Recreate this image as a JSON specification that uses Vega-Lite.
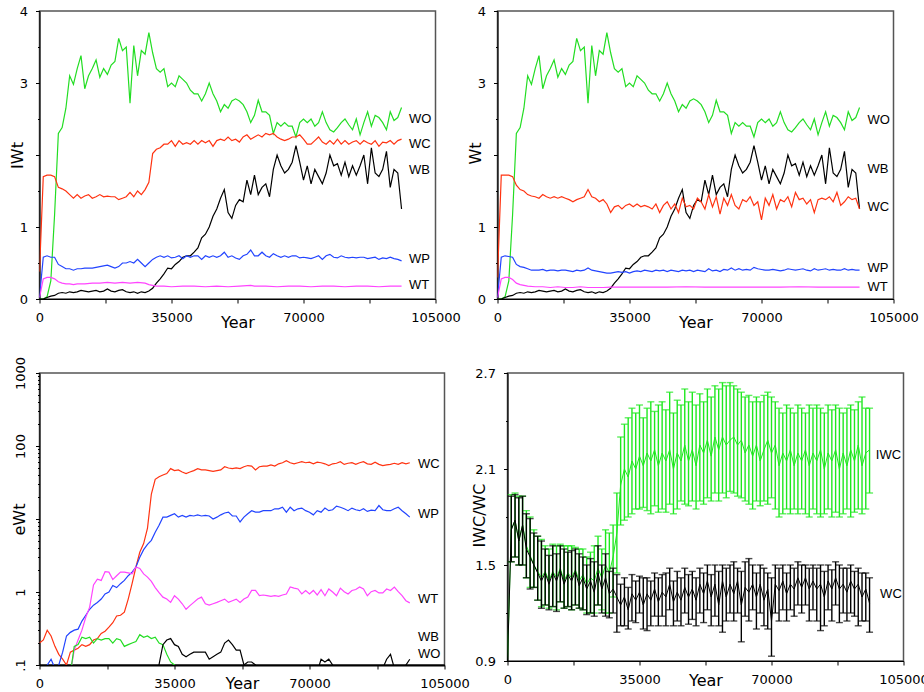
{
"$schema": "https://vega.github.io/schema/vega-lite/v6.json",
"padding": {"left": 8.5, "top": 4, "right": 0, "bottom": 0},
"background": "white",
"config": {
  "view": {"stroke": "#555", "strokeWidth": 1.5},
  "axis": {"grid": false, "domainColor": "#000", "domainWidth": 1.2, "tickColor": "#000", "tickWidth": 1, "labelFont": "DejaVu Sans", "labelFontSize": 13, "labelColor": "#000", "titleFont": "DejaVu Sans", "titleFontSize": 16, "titleFontWeight": "normal", "titleColor": "#000", "labelPadding": 8, "labelOverlap": false}
},
"datasets": {
"top": [
{"t":0,"s":"WO","v":0},{"t":1000,"s":"WO","v":0},{"t":2000,"s":"WO","v":0.03},{"t":3000,"s":"WO","v":0.25},{"t":4000,"s":"WO","v":1.17},{"t":5000,"s":"WO","v":2.3},{"t":6000,"s":"WO","v":2.38},{"t":7000,"s":"WO","v":2.65},{"t":8000,"s":"WO","v":3.1},{"t":9000,"s":"WO","v":2.98},{"t":10000,"s":"WO","v":3.2},{"t":11000,"s":"WO","v":3.38},{"t":12000,"s":"WO","v":2.92},{"t":13000,"s":"WO","v":3.1},{"t":14000,"s":"WO","v":3.2},{"t":15000,"s":"WO","v":3.32},{"t":16000,"s":"WO","v":3.08},{"t":17000,"s":"WO","v":3.2},{"t":18000,"s":"WO","v":3.12},{"t":19000,"s":"WO","v":3.25},{"t":20000,"s":"WO","v":3.3},{"t":21000,"s":"WO","v":3.62},{"t":22000,"s":"WO","v":3.45},{"t":23000,"s":"WO","v":3.5},{"t":24000,"s":"WO","v":2.72},{"t":25000,"s":"WO","v":3.52},{"t":26000,"s":"WO","v":3.1},{"t":27000,"s":"WO","v":3.45},{"t":28000,"s":"WO","v":3.4},{"t":29000,"s":"WO","v":3.7},{"t":30000,"s":"WO","v":3.42},{"t":31000,"s":"WO","v":3.2},{"t":32000,"s":"WO","v":3.15},{"t":33000,"s":"WO","v":3.2},{"t":34000,"s":"WO","v":2.95},{"t":35000,"s":"WO","v":3.0},{"t":36000,"s":"WO","v":2.95},{"t":37000,"s":"WO","v":3.1},{"t":38000,"s":"WO","v":3.05},{"t":39000,"s":"WO","v":3.0},{"t":40000,"s":"WO","v":2.9},{"t":41000,"s":"WO","v":2.85},{"t":42000,"s":"WO","v":2.85},{"t":43000,"s":"WO","v":2.75},{"t":44000,"s":"WO","v":2.85},{"t":45000,"s":"WO","v":3.0},{"t":46000,"s":"WO","v":2.85},{"t":47000,"s":"WO","v":2.75},{"t":48000,"s":"WO","v":2.6},{"t":49000,"s":"WO","v":2.7},{"t":50000,"s":"WO","v":2.65},{"t":51000,"s":"WO","v":2.75},{"t":52000,"s":"WO","v":2.78},{"t":53000,"s":"WO","v":2.75},{"t":54000,"s":"WO","v":2.7},{"t":55000,"s":"WO","v":2.6},{"t":56000,"s":"WO","v":2.45},{"t":57000,"s":"WO","v":2.55},{"t":58000,"s":"WO","v":2.76},{"t":59000,"s":"WO","v":2.6},{"t":60000,"s":"WO","v":2.6},{"t":61000,"s":"WO","v":2.55},{"t":62000,"s":"WO","v":2.3},{"t":63000,"s":"WO","v":2.45},{"t":64000,"s":"WO","v":2.4},{"t":65000,"s":"WO","v":2.45},{"t":66000,"s":"WO","v":2.4},{"t":67000,"s":"WO","v":2.4},{"t":68000,"s":"WO","v":2.25},{"t":69000,"s":"WO","v":2.45},{"t":70000,"s":"WO","v":2.5},{"t":71000,"s":"WO","v":2.45},{"t":72000,"s":"WO","v":2.5},{"t":73000,"s":"WO","v":2.4},{"t":74000,"s":"WO","v":2.45},{"t":75000,"s":"WO","v":2.6},{"t":76000,"s":"WO","v":2.45},{"t":77000,"s":"WO","v":2.35},{"t":78000,"s":"WO","v":2.32},{"t":79000,"s":"WO","v":2.38},{"t":80000,"s":"WO","v":2.45},{"t":81000,"s":"WO","v":2.5},{"t":82000,"s":"WO","v":2.42},{"t":83000,"s":"WO","v":2.35},{"t":84000,"s":"WO","v":2.5},{"t":85000,"s":"WO","v":2.28},{"t":86000,"s":"WO","v":2.45},{"t":87000,"s":"WO","v":2.6},{"t":88000,"s":"WO","v":2.4},{"t":89000,"s":"WO","v":2.55},{"t":90000,"s":"WO","v":2.52},{"t":91000,"s":"WO","v":2.45},{"t":92000,"s":"WO","v":2.35},{"t":93000,"s":"WO","v":2.6},{"t":94000,"s":"WO","v":2.48},{"t":95000,"s":"WO","v":2.52},{"t":96000,"s":"WO","v":2.66},
{"t":0,"s":"WB","v":0},{"t":1000,"s":"WB","v":0},{"t":2000,"s":"WB","v":0.02},{"t":3000,"s":"WB","v":0.04},{"t":4000,"s":"WB","v":0.05},{"t":5000,"s":"WB","v":0.08},{"t":6000,"s":"WB","v":0.09},{"t":7000,"s":"WB","v":0.08},{"t":8000,"s":"WB","v":0.1},{"t":9000,"s":"WB","v":0.09},{"t":10000,"s":"WB","v":0.1},{"t":11000,"s":"WB","v":0.12},{"t":12000,"s":"WB","v":0.11},{"t":13000,"s":"WB","v":0.1},{"t":14000,"s":"WB","v":0.11},{"t":15000,"s":"WB","v":0.12},{"t":16000,"s":"WB","v":0.1},{"t":17000,"s":"WB","v":0.11},{"t":18000,"s":"WB","v":0.14},{"t":19000,"s":"WB","v":0.11},{"t":20000,"s":"WB","v":0.1},{"t":21000,"s":"WB","v":0.12},{"t":22000,"s":"WB","v":0.13},{"t":23000,"s":"WB","v":0.1},{"t":24000,"s":"WB","v":0.09},{"t":25000,"s":"WB","v":0.1},{"t":26000,"s":"WB","v":0.08},{"t":27000,"s":"WB","v":0.1},{"t":28000,"s":"WB","v":0.09},{"t":29000,"s":"WB","v":0.11},{"t":30000,"s":"WB","v":0.15},{"t":31000,"s":"WB","v":0.22},{"t":32000,"s":"WB","v":0.28},{"t":33000,"s":"WB","v":0.35},{"t":34000,"s":"WB","v":0.43},{"t":35000,"s":"WB","v":0.42},{"t":36000,"s":"WB","v":0.48},{"t":37000,"s":"WB","v":0.52},{"t":38000,"s":"WB","v":0.58},{"t":39000,"s":"WB","v":0.6},{"t":40000,"s":"WB","v":0.6},{"t":41000,"s":"WB","v":0.65},{"t":42000,"s":"WB","v":0.71},{"t":43000,"s":"WB","v":0.85},{"t":44000,"s":"WB","v":0.9},{"t":45000,"s":"WB","v":1.0},{"t":46000,"s":"WB","v":1.15},{"t":47000,"s":"WB","v":1.25},{"t":48000,"s":"WB","v":1.4},{"t":49000,"s":"WB","v":1.52},{"t":50000,"s":"WB","v":1.2},{"t":51000,"s":"WB","v":1.12},{"t":52000,"s":"WB","v":1.3},{"t":53000,"s":"WB","v":1.38},{"t":54000,"s":"WB","v":1.35},{"t":55000,"s":"WB","v":1.65},{"t":56000,"s":"WB","v":1.45},{"t":57000,"s":"WB","v":1.72},{"t":58000,"s":"WB","v":1.45},{"t":59000,"s":"WB","v":1.55},{"t":60000,"s":"WB","v":1.6},{"t":61000,"s":"WB","v":1.42},{"t":62000,"s":"WB","v":1.8},{"t":63000,"s":"WB","v":2.0},{"t":64000,"s":"WB","v":1.85},{"t":65000,"s":"WB","v":1.75},{"t":66000,"s":"WB","v":1.8},{"t":67000,"s":"WB","v":1.9},{"t":68000,"s":"WB","v":2.13},{"t":69000,"s":"WB","v":1.9},{"t":70000,"s":"WB","v":1.65},{"t":71000,"s":"WB","v":1.85},{"t":72000,"s":"WB","v":1.6},{"t":73000,"s":"WB","v":1.8},{"t":74000,"s":"WB","v":1.7},{"t":75000,"s":"WB","v":1.6},{"t":76000,"s":"WB","v":1.75},{"t":77000,"s":"WB","v":2.0},{"t":78000,"s":"WB","v":1.85},{"t":79000,"s":"WB","v":1.88},{"t":80000,"s":"WB","v":1.72},{"t":81000,"s":"WB","v":1.9},{"t":82000,"s":"WB","v":1.7},{"t":83000,"s":"WB","v":1.85},{"t":84000,"s":"WB","v":1.72},{"t":85000,"s":"WB","v":1.85},{"t":86000,"s":"WB","v":2.0},{"t":87000,"s":"WB","v":1.6},{"t":88000,"s":"WB","v":2.1},{"t":89000,"s":"WB","v":1.75},{"t":90000,"s":"WB","v":1.7},{"t":91000,"s":"WB","v":1.8},{"t":92000,"s":"WB","v":2.05},{"t":93000,"s":"WB","v":1.55},{"t":94000,"s":"WB","v":1.8},{"t":95000,"s":"WB","v":1.75},{"t":96000,"s":"WB","v":1.25},
{"t":0,"s":"WC","p":"I","v":0.38},{"t":1000,"s":"WC","p":"I","v":1.7},{"t":2000,"s":"WC","p":"I","v":1.72},{"t":3000,"s":"WC","p":"I","v":1.72},{"t":4000,"s":"WC","p":"I","v":1.7},{"t":5000,"s":"WC","p":"I","v":1.55},{"t":6000,"s":"WC","p":"I","v":1.53},{"t":7000,"s":"WC","p":"I","v":1.5},{"t":8000,"s":"WC","p":"I","v":1.45},{"t":9000,"s":"WC","p":"I","v":1.4},{"t":10000,"s":"WC","p":"I","v":1.45},{"t":11000,"s":"WC","p":"I","v":1.4},{"t":12000,"s":"WC","p":"I","v":1.43},{"t":13000,"s":"WC","p":"I","v":1.45},{"t":14000,"s":"WC","p":"I","v":1.4},{"t":15000,"s":"WC","p":"I","v":1.42},{"t":16000,"s":"WC","p":"I","v":1.45},{"t":17000,"s":"WC","p":"I","v":1.42},{"t":18000,"s":"WC","p":"I","v":1.43},{"t":19000,"s":"WC","p":"I","v":1.42},{"t":20000,"s":"WC","p":"I","v":1.42},{"t":21000,"s":"WC","p":"I","v":1.38},{"t":22000,"s":"WC","p":"I","v":1.4},{"t":23000,"s":"WC","p":"I","v":1.42},{"t":24000,"s":"WC","p":"I","v":1.48},{"t":25000,"s":"WC","p":"I","v":1.42},{"t":26000,"s":"WC","p":"I","v":1.5},{"t":27000,"s":"WC","p":"I","v":1.45},{"t":28000,"s":"WC","p":"I","v":1.52},{"t":29000,"s":"WC","p":"I","v":1.62},{"t":30000,"s":"WC","p":"I","v":2.02},{"t":31000,"s":"WC","p":"I","v":2.08},{"t":32000,"s":"WC","p":"I","v":2.1},{"t":33000,"s":"WC","p":"I","v":2.15},{"t":34000,"s":"WC","p":"I","v":2.15},{"t":35000,"s":"WC","p":"I","v":2.2},{"t":36000,"s":"WC","p":"I","v":2.12},{"t":37000,"s":"WC","p":"I","v":2.2},{"t":38000,"s":"WC","p":"I","v":2.15},{"t":39000,"s":"WC","p":"I","v":2.17},{"t":40000,"s":"WC","p":"I","v":2.15},{"t":41000,"s":"WC","p":"I","v":2.2},{"t":42000,"s":"WC","p":"I","v":2.15},{"t":43000,"s":"WC","p":"I","v":2.2},{"t":44000,"s":"WC","p":"I","v":2.17},{"t":45000,"s":"WC","p":"I","v":2.2},{"t":46000,"s":"WC","p":"I","v":2.12},{"t":47000,"s":"WC","p":"I","v":2.2},{"t":48000,"s":"WC","p":"I","v":2.22},{"t":49000,"s":"WC","p":"I","v":2.2},{"t":50000,"s":"WC","p":"I","v":2.25},{"t":51000,"s":"WC","p":"I","v":2.2},{"t":52000,"s":"WC","p":"I","v":2.22},{"t":53000,"s":"WC","p":"I","v":2.18},{"t":54000,"s":"WC","p":"I","v":2.25},{"t":55000,"s":"WC","p":"I","v":2.28},{"t":56000,"s":"WC","p":"I","v":2.22},{"t":57000,"s":"WC","p":"I","v":2.25},{"t":58000,"s":"WC","p":"I","v":2.28},{"t":59000,"s":"WC","p":"I","v":2.25},{"t":60000,"s":"WC","p":"I","v":2.3},{"t":61000,"s":"WC","p":"I","v":2.28},{"t":62000,"s":"WC","p":"I","v":2.3},{"t":63000,"s":"WC","p":"I","v":2.25},{"t":64000,"s":"WC","p":"I","v":2.22},{"t":65000,"s":"WC","p":"I","v":2.2},{"t":66000,"s":"WC","p":"I","v":2.22},{"t":67000,"s":"WC","p":"I","v":2.25},{"t":68000,"s":"WC","p":"I","v":2.25},{"t":69000,"s":"WC","p":"I","v":2.28},{"t":70000,"s":"WC","p":"I","v":2.22},{"t":71000,"s":"WC","p":"I","v":2.15},{"t":72000,"s":"WC","p":"I","v":2.15},{"t":73000,"s":"WC","p":"I","v":2.2},{"t":74000,"s":"WC","p":"I","v":2.25},{"t":75000,"s":"WC","p":"I","v":2.18},{"t":76000,"s":"WC","p":"I","v":2.15},{"t":77000,"s":"WC","p":"I","v":2.2},{"t":78000,"s":"WC","p":"I","v":2.15},{"t":79000,"s":"WC","p":"I","v":2.22},{"t":80000,"s":"WC","p":"I","v":2.15},{"t":81000,"s":"WC","p":"I","v":2.2},{"t":82000,"s":"WC","p":"I","v":2.15},{"t":83000,"s":"WC","p":"I","v":2.18},{"t":84000,"s":"WC","p":"I","v":2.2},{"t":85000,"s":"WC","p":"I","v":2.15},{"t":86000,"s":"WC","p":"I","v":2.2},{"t":87000,"s":"WC","p":"I","v":2.17},{"t":88000,"s":"WC","p":"I","v":2.15},{"t":89000,"s":"WC","p":"I","v":2.2},{"t":90000,"s":"WC","p":"I","v":2.12},{"t":91000,"s":"WC","p":"I","v":2.18},{"t":92000,"s":"WC","p":"I","v":2.17},{"t":93000,"s":"WC","p":"I","v":2.2},{"t":94000,"s":"WC","p":"I","v":2.15},{"t":95000,"s":"WC","p":"I","v":2.2},{"t":96000,"s":"WC","p":"I","v":2.22},
{"t":0,"s":"WC","p":"W","v":0.3},{"t":1000,"s":"WC","p":"W","v":1.72},{"t":2000,"s":"WC","p":"W","v":1.72},{"t":3000,"s":"WC","p":"W","v":1.72},{"t":4000,"s":"WC","p":"W","v":1.7},{"t":5000,"s":"WC","p":"W","v":1.58},{"t":6000,"s":"WC","p":"W","v":1.52},{"t":7000,"s":"WC","p":"W","v":1.5},{"t":8000,"s":"WC","p":"W","v":1.45},{"t":9000,"s":"WC","p":"W","v":1.43},{"t":10000,"s":"WC","p":"W","v":1.42},{"t":11000,"s":"WC","p":"W","v":1.4},{"t":12000,"s":"WC","p":"W","v":1.45},{"t":13000,"s":"WC","p":"W","v":1.42},{"t":14000,"s":"WC","p":"W","v":1.4},{"t":15000,"s":"WC","p":"W","v":1.42},{"t":16000,"s":"WC","p":"W","v":1.4},{"t":17000,"s":"WC","p":"W","v":1.42},{"t":18000,"s":"WC","p":"W","v":1.4},{"t":19000,"s":"WC","p":"W","v":1.38},{"t":20000,"s":"WC","p":"W","v":1.35},{"t":21000,"s":"WC","p":"W","v":1.38},{"t":22000,"s":"WC","p":"W","v":1.4},{"t":23000,"s":"WC","p":"W","v":1.42},{"t":24000,"s":"WC","p":"W","v":1.52},{"t":25000,"s":"WC","p":"W","v":1.42},{"t":26000,"s":"WC","p":"W","v":1.4},{"t":27000,"s":"WC","p":"W","v":1.35},{"t":28000,"s":"WC","p":"W","v":1.38},{"t":29000,"s":"WC","p":"W","v":1.32},{"t":30000,"s":"WC","p":"W","v":1.2},{"t":31000,"s":"WC","p":"W","v":1.28},{"t":32000,"s":"WC","p":"W","v":1.3},{"t":33000,"s":"WC","p":"W","v":1.25},{"t":34000,"s":"WC","p":"W","v":1.3},{"t":35000,"s":"WC","p":"W","v":1.32},{"t":36000,"s":"WC","p":"W","v":1.28},{"t":37000,"s":"WC","p":"W","v":1.32},{"t":38000,"s":"WC","p":"W","v":1.28},{"t":39000,"s":"WC","p":"W","v":1.3},{"t":40000,"s":"WC","p":"W","v":1.28},{"t":41000,"s":"WC","p":"W","v":1.25},{"t":42000,"s":"WC","p":"W","v":1.32},{"t":43000,"s":"WC","p":"W","v":1.2},{"t":44000,"s":"WC","p":"W","v":1.3},{"t":45000,"s":"WC","p":"W","v":1.35},{"t":46000,"s":"WC","p":"W","v":1.25},{"t":47000,"s":"WC","p":"W","v":1.32},{"t":48000,"s":"WC","p":"W","v":1.2},{"t":49000,"s":"WC","p":"W","v":1.4},{"t":50000,"s":"WC","p":"W","v":1.28},{"t":51000,"s":"WC","p":"W","v":1.3},{"t":52000,"s":"WC","p":"W","v":1.25},{"t":53000,"s":"WC","p":"W","v":1.4},{"t":54000,"s":"WC","p":"W","v":1.35},{"t":55000,"s":"WC","p":"W","v":1.25},{"t":56000,"s":"WC","p":"W","v":1.45},{"t":57000,"s":"WC","p":"W","v":1.28},{"t":58000,"s":"WC","p":"W","v":1.42},{"t":59000,"s":"WC","p":"W","v":1.18},{"t":60000,"s":"WC","p":"W","v":1.4},{"t":61000,"s":"WC","p":"W","v":1.3},{"t":62000,"s":"WC","p":"W","v":1.45},{"t":63000,"s":"WC","p":"W","v":1.3},{"t":64000,"s":"WC","p":"W","v":1.25},{"t":65000,"s":"WC","p":"W","v":1.38},{"t":66000,"s":"WC","p":"W","v":1.35},{"t":67000,"s":"WC","p":"W","v":1.42},{"t":68000,"s":"WC","p":"W","v":1.3},{"t":69000,"s":"WC","p":"W","v":1.35},{"t":70000,"s":"WC","p":"W","v":1.1},{"t":71000,"s":"WC","p":"W","v":1.4},{"t":72000,"s":"WC","p":"W","v":1.3},{"t":73000,"s":"WC","p":"W","v":1.45},{"t":74000,"s":"WC","p":"W","v":1.25},{"t":75000,"s":"WC","p":"W","v":1.38},{"t":76000,"s":"WC","p":"W","v":1.35},{"t":77000,"s":"WC","p":"W","v":1.42},{"t":78000,"s":"WC","p":"W","v":1.28},{"t":79000,"s":"WC","p":"W","v":1.48},{"t":80000,"s":"WC","p":"W","v":1.38},{"t":81000,"s":"WC","p":"W","v":1.4},{"t":82000,"s":"WC","p":"W","v":1.32},{"t":83000,"s":"WC","p":"W","v":1.38},{"t":84000,"s":"WC","p":"W","v":1.2},{"t":85000,"s":"WC","p":"W","v":1.38},{"t":86000,"s":"WC","p":"W","v":1.4},{"t":87000,"s":"WC","p":"W","v":1.38},{"t":88000,"s":"WC","p":"W","v":1.42},{"t":89000,"s":"WC","p":"W","v":1.35},{"t":90000,"s":"WC","p":"W","v":1.48},{"t":91000,"s":"WC","p":"W","v":1.3},{"t":92000,"s":"WC","p":"W","v":1.35},{"t":93000,"s":"WC","p":"W","v":1.42},{"t":94000,"s":"WC","p":"W","v":1.38},{"t":95000,"s":"WC","p":"W","v":1.4},{"t":96000,"s":"WC","p":"W","v":1.25},
{"t":0,"s":"WP","p":"I","v":0.02},{"t":1000,"s":"WP","p":"I","v":0.58},{"t":2000,"s":"WP","p":"I","v":0.6},{"t":3000,"s":"WP","p":"I","v":0.58},{"t":4000,"s":"WP","p":"I","v":0.58},{"t":5000,"s":"WP","p":"I","v":0.48},{"t":6000,"s":"WP","p":"I","v":0.45},{"t":7000,"s":"WP","p":"I","v":0.42},{"t":8000,"s":"WP","p":"I","v":0.42},{"t":9000,"s":"WP","p":"I","v":0.4},{"t":10000,"s":"WP","p":"I","v":0.42},{"t":11000,"s":"WP","p":"I","v":0.42},{"t":12000,"s":"WP","p":"I","v":0.43},{"t":13000,"s":"WP","p":"I","v":0.43},{"t":14000,"s":"WP","p":"I","v":0.43},{"t":15000,"s":"WP","p":"I","v":0.44},{"t":16000,"s":"WP","p":"I","v":0.45},{"t":17000,"s":"WP","p":"I","v":0.46},{"t":18000,"s":"WP","p":"I","v":0.47},{"t":19000,"s":"WP","p":"I","v":0.45},{"t":20000,"s":"WP","p":"I","v":0.43},{"t":21000,"s":"WP","p":"I","v":0.45},{"t":22000,"s":"WP","p":"I","v":0.5},{"t":23000,"s":"WP","p":"I","v":0.5},{"t":24000,"s":"WP","p":"I","v":0.52},{"t":25000,"s":"WP","p":"I","v":0.5},{"t":26000,"s":"WP","p":"I","v":0.55},{"t":27000,"s":"WP","p":"I","v":0.5},{"t":28000,"s":"WP","p":"I","v":0.45},{"t":29000,"s":"WP","p":"I","v":0.5},{"t":30000,"s":"WP","p":"I","v":0.55},{"t":31000,"s":"WP","p":"I","v":0.58},{"t":32000,"s":"WP","p":"I","v":0.6},{"t":33000,"s":"WP","p":"I","v":0.58},{"t":34000,"s":"WP","p":"I","v":0.6},{"t":35000,"s":"WP","p":"I","v":0.57},{"t":36000,"s":"WP","p":"I","v":0.58},{"t":37000,"s":"WP","p":"I","v":0.6},{"t":38000,"s":"WP","p":"I","v":0.56},{"t":39000,"s":"WP","p":"I","v":0.6},{"t":40000,"s":"WP","p":"I","v":0.58},{"t":41000,"s":"WP","p":"I","v":0.6},{"t":42000,"s":"WP","p":"I","v":0.6},{"t":43000,"s":"WP","p":"I","v":0.55},{"t":44000,"s":"WP","p":"I","v":0.6},{"t":45000,"s":"WP","p":"I","v":0.58},{"t":46000,"s":"WP","p":"I","v":0.6},{"t":47000,"s":"WP","p":"I","v":0.58},{"t":48000,"s":"WP","p":"I","v":0.6},{"t":49000,"s":"WP","p":"I","v":0.65},{"t":50000,"s":"WP","p":"I","v":0.58},{"t":51000,"s":"WP","p":"I","v":0.6},{"t":52000,"s":"WP","p":"I","v":0.57},{"t":53000,"s":"WP","p":"I","v":0.55},{"t":54000,"s":"WP","p":"I","v":0.6},{"t":55000,"s":"WP","p":"I","v":0.62},{"t":56000,"s":"WP","p":"I","v":0.68},{"t":57000,"s":"WP","p":"I","v":0.6},{"t":58000,"s":"WP","p":"I","v":0.6},{"t":59000,"s":"WP","p":"I","v":0.65},{"t":60000,"s":"WP","p":"I","v":0.6},{"t":61000,"s":"WP","p":"I","v":0.58},{"t":62000,"s":"WP","p":"I","v":0.63},{"t":63000,"s":"WP","p":"I","v":0.6},{"t":64000,"s":"WP","p":"I","v":0.58},{"t":65000,"s":"WP","p":"I","v":0.6},{"t":66000,"s":"WP","p":"I","v":0.58},{"t":67000,"s":"WP","p":"I","v":0.6},{"t":68000,"s":"WP","p":"I","v":0.6},{"t":69000,"s":"WP","p":"I","v":0.57},{"t":70000,"s":"WP","p":"I","v":0.58},{"t":71000,"s":"WP","p":"I","v":0.57},{"t":72000,"s":"WP","p":"I","v":0.56},{"t":73000,"s":"WP","p":"I","v":0.58},{"t":74000,"s":"WP","p":"I","v":0.6},{"t":75000,"s":"WP","p":"I","v":0.55},{"t":76000,"s":"WP","p":"I","v":0.6},{"t":77000,"s":"WP","p":"I","v":0.62},{"t":78000,"s":"WP","p":"I","v":0.58},{"t":79000,"s":"WP","p":"I","v":0.57},{"t":80000,"s":"WP","p":"I","v":0.6},{"t":81000,"s":"WP","p":"I","v":0.58},{"t":82000,"s":"WP","p":"I","v":0.57},{"t":83000,"s":"WP","p":"I","v":0.58},{"t":84000,"s":"WP","p":"I","v":0.57},{"t":85000,"s":"WP","p":"I","v":0.58},{"t":86000,"s":"WP","p":"I","v":0.58},{"t":87000,"s":"WP","p":"I","v":0.56},{"t":88000,"s":"WP","p":"I","v":0.57},{"t":89000,"s":"WP","p":"I","v":0.58},{"t":90000,"s":"WP","p":"I","v":0.55},{"t":91000,"s":"WP","p":"I","v":0.57},{"t":92000,"s":"WP","p":"I","v":0.56},{"t":93000,"s":"WP","p":"I","v":0.58},{"t":94000,"s":"WP","p":"I","v":0.56},{"t":95000,"s":"WP","p":"I","v":0.55},{"t":96000,"s":"WP","p":"I","v":0.53},
{"t":0,"s":"WP","p":"W","v":0.02},{"t":1000,"s":"WP","p":"W","v":0.58},{"t":2000,"s":"WP","p":"W","v":0.6},{"t":3000,"s":"WP","p":"W","v":0.59},{"t":4000,"s":"WP","p":"W","v":0.58},{"t":5000,"s":"WP","p":"W","v":0.48},{"t":6000,"s":"WP","p":"W","v":0.45},{"t":7000,"s":"WP","p":"W","v":0.44},{"t":8000,"s":"WP","p":"W","v":0.42},{"t":9000,"s":"WP","p":"W","v":0.4},{"t":10000,"s":"WP","p":"W","v":0.4},{"t":11000,"s":"WP","p":"W","v":0.4},{"t":12000,"s":"WP","p":"W","v":0.41},{"t":13000,"s":"WP","p":"W","v":0.39},{"t":14000,"s":"WP","p":"W","v":0.4},{"t":15000,"s":"WP","p":"W","v":0.4},{"t":16000,"s":"WP","p":"W","v":0.39},{"t":17000,"s":"WP","p":"W","v":0.4},{"t":18000,"s":"WP","p":"W","v":0.4},{"t":19000,"s":"WP","p":"W","v":0.39},{"t":20000,"s":"WP","p":"W","v":0.38},{"t":21000,"s":"WP","p":"W","v":0.4},{"t":22000,"s":"WP","p":"W","v":0.39},{"t":23000,"s":"WP","p":"W","v":0.4},{"t":24000,"s":"WP","p":"W","v":0.43},{"t":25000,"s":"WP","p":"W","v":0.4},{"t":26000,"s":"WP","p":"W","v":0.39},{"t":27000,"s":"WP","p":"W","v":0.38},{"t":28000,"s":"WP","p":"W","v":0.37},{"t":29000,"s":"WP","p":"W","v":0.36},{"t":30000,"s":"WP","p":"W","v":0.36},{"t":31000,"s":"WP","p":"W","v":0.37},{"t":32000,"s":"WP","p":"W","v":0.38},{"t":33000,"s":"WP","p":"W","v":0.37},{"t":34000,"s":"WP","p":"W","v":0.38},{"t":35000,"s":"WP","p":"W","v":0.36},{"t":36000,"s":"WP","p":"W","v":0.38},{"t":37000,"s":"WP","p":"W","v":0.39},{"t":38000,"s":"WP","p":"W","v":0.38},{"t":39000,"s":"WP","p":"W","v":0.4},{"t":40000,"s":"WP","p":"W","v":0.39},{"t":41000,"s":"WP","p":"W","v":0.38},{"t":42000,"s":"WP","p":"W","v":0.4},{"t":43000,"s":"WP","p":"W","v":0.39},{"t":44000,"s":"WP","p":"W","v":0.4},{"t":45000,"s":"WP","p":"W","v":0.38},{"t":46000,"s":"WP","p":"W","v":0.4},{"t":47000,"s":"WP","p":"W","v":0.39},{"t":48000,"s":"WP","p":"W","v":0.38},{"t":49000,"s":"WP","p":"W","v":0.4},{"t":50000,"s":"WP","p":"W","v":0.39},{"t":51000,"s":"WP","p":"W","v":0.4},{"t":52000,"s":"WP","p":"W","v":0.38},{"t":53000,"s":"WP","p":"W","v":0.4},{"t":54000,"s":"WP","p":"W","v":0.39},{"t":55000,"s":"WP","p":"W","v":0.38},{"t":56000,"s":"WP","p":"W","v":0.42},{"t":57000,"s":"WP","p":"W","v":0.39},{"t":58000,"s":"WP","p":"W","v":0.4},{"t":59000,"s":"WP","p":"W","v":0.38},{"t":60000,"s":"WP","p":"W","v":0.41},{"t":61000,"s":"WP","p":"W","v":0.4},{"t":62000,"s":"WP","p":"W","v":0.43},{"t":63000,"s":"WP","p":"W","v":0.4},{"t":64000,"s":"WP","p":"W","v":0.42},{"t":65000,"s":"WP","p":"W","v":0.4},{"t":66000,"s":"WP","p":"W","v":0.41},{"t":67000,"s":"WP","p":"W","v":0.4},{"t":68000,"s":"WP","p":"W","v":0.44},{"t":69000,"s":"WP","p":"W","v":0.42},{"t":70000,"s":"WP","p":"W","v":0.41},{"t":71000,"s":"WP","p":"W","v":0.4},{"t":72000,"s":"WP","p":"W","v":0.4},{"t":73000,"s":"WP","p":"W","v":0.41},{"t":74000,"s":"WP","p":"W","v":0.4},{"t":75000,"s":"WP","p":"W","v":0.39},{"t":76000,"s":"WP","p":"W","v":0.4},{"t":77000,"s":"WP","p":"W","v":0.42},{"t":78000,"s":"WP","p":"W","v":0.41},{"t":79000,"s":"WP","p":"W","v":0.4},{"t":80000,"s":"WP","p":"W","v":0.41},{"t":81000,"s":"WP","p":"W","v":0.42},{"t":82000,"s":"WP","p":"W","v":0.4},{"t":83000,"s":"WP","p":"W","v":0.39},{"t":84000,"s":"WP","p":"W","v":0.42},{"t":85000,"s":"WP","p":"W","v":0.4},{"t":86000,"s":"WP","p":"W","v":0.41},{"t":87000,"s":"WP","p":"W","v":0.42},{"t":88000,"s":"WP","p":"W","v":0.4},{"t":89000,"s":"WP","p":"W","v":0.41},{"t":90000,"s":"WP","p":"W","v":0.4},{"t":91000,"s":"WP","p":"W","v":0.4},{"t":92000,"s":"WP","p":"W","v":0.42},{"t":93000,"s":"WP","p":"W","v":0.4},{"t":94000,"s":"WP","p":"W","v":0.41},{"t":95000,"s":"WP","p":"W","v":0.4},{"t":96000,"s":"WP","p":"W","v":0.4},
{"t":0,"s":"WT","p":"I","v":0.02},{"t":1000,"s":"WT","p":"I","v":0.28},{"t":2000,"s":"WT","p":"I","v":0.3},{"t":3000,"s":"WT","p":"I","v":0.3},{"t":4000,"s":"WT","p":"I","v":0.28},{"t":5000,"s":"WT","p":"I","v":0.24},{"t":6000,"s":"WT","p":"I","v":0.22},{"t":7000,"s":"WT","p":"I","v":0.21},{"t":8000,"s":"WT","p":"I","v":0.21},{"t":9000,"s":"WT","p":"I","v":0.2},{"t":10000,"s":"WT","p":"I","v":0.21},{"t":12000,"s":"WT","p":"I","v":0.21},{"t":14000,"s":"WT","p":"I","v":0.22},{"t":16000,"s":"WT","p":"I","v":0.22},{"t":18000,"s":"WT","p":"I","v":0.23},{"t":20000,"s":"WT","p":"I","v":0.22},{"t":22000,"s":"WT","p":"I","v":0.23},{"t":24000,"s":"WT","p":"I","v":0.22},{"t":26000,"s":"WT","p":"I","v":0.23},{"t":28000,"s":"WT","p":"I","v":0.22},{"t":29000,"s":"WT","p":"I","v":0.2},{"t":30000,"s":"WT","p":"I","v":0.19},{"t":31000,"s":"WT","p":"I","v":0.18},{"t":33000,"s":"WT","p":"I","v":0.18},{"t":35000,"s":"WT","p":"I","v":0.17},{"t":38000,"s":"WT","p":"I","v":0.18},{"t":41000,"s":"WT","p":"I","v":0.18},{"t":44000,"s":"WT","p":"I","v":0.17},{"t":47000,"s":"WT","p":"I","v":0.18},{"t":50000,"s":"WT","p":"I","v":0.17},{"t":53000,"s":"WT","p":"I","v":0.18},{"t":56000,"s":"WT","p":"I","v":0.19},{"t":57000,"s":"WT","p":"I","v":0.18},{"t":60000,"s":"WT","p":"I","v":0.18},{"t":63000,"s":"WT","p":"I","v":0.17},{"t":66000,"s":"WT","p":"I","v":0.18},{"t":69000,"s":"WT","p":"I","v":0.18},{"t":72000,"s":"WT","p":"I","v":0.17},{"t":75000,"s":"WT","p":"I","v":0.18},{"t":78000,"s":"WT","p":"I","v":0.18},{"t":81000,"s":"WT","p":"I","v":0.17},{"t":84000,"s":"WT","p":"I","v":0.18},{"t":87000,"s":"WT","p":"I","v":0.18},{"t":90000,"s":"WT","p":"I","v":0.17},{"t":93000,"s":"WT","p":"I","v":0.18},{"t":96000,"s":"WT","p":"I","v":0.18},
{"t":0,"s":"WT","p":"W","v":0.02},{"t":1000,"s":"WT","p":"W","v":0.28},{"t":2000,"s":"WT","p":"W","v":0.3},{"t":3000,"s":"WT","p":"W","v":0.3},{"t":4000,"s":"WT","p":"W","v":0.27},{"t":5000,"s":"WT","p":"W","v":0.22},{"t":6000,"s":"WT","p":"W","v":0.2},{"t":7000,"s":"WT","p":"W","v":0.19},{"t":8000,"s":"WT","p":"W","v":0.18},{"t":10000,"s":"WT","p":"W","v":0.17},{"t":12000,"s":"WT","p":"W","v":0.17},{"t":14000,"s":"WT","p":"W","v":0.16},{"t":16000,"s":"WT","p":"W","v":0.17},{"t":18000,"s":"WT","p":"W","v":0.16},{"t":20000,"s":"WT","p":"W","v":0.16},{"t":22000,"s":"WT","p":"W","v":0.17},{"t":24000,"s":"WT","p":"W","v":0.16},{"t":26000,"s":"WT","p":"W","v":0.16},{"t":28000,"s":"WT","p":"W","v":0.16},{"t":30000,"s":"WT","p":"W","v":0.165},{"t":35000,"s":"WT","p":"W","v":0.165},{"t":40000,"s":"WT","p":"W","v":0.165},{"t":45000,"s":"WT","p":"W","v":0.165},{"t":50000,"s":"WT","p":"W","v":0.17},{"t":55000,"s":"WT","p":"W","v":0.165},{"t":60000,"s":"WT","p":"W","v":0.165},{"t":65000,"s":"WT","p":"W","v":0.165},{"t":70000,"s":"WT","p":"W","v":0.165},{"t":75000,"s":"WT","p":"W","v":0.165},{"t":80000,"s":"WT","p":"W","v":0.17},{"t":85000,"s":"WT","p":"W","v":0.165},{"t":90000,"s":"WT","p":"W","v":0.165},{"t":96000,"s":"WT","p":"W","v":0.165}
],
"ew": [
{"t":0,"s":"WC","v":0.2},{"t":1000,"s":"WC","v":0.22},{"t":2000,"s":"WC","v":0.3},{"t":3000,"s":"WC","v":0.25},{"t":4000,"s":"WC","v":0.18},{"t":5000,"s":"WC","v":0.14},{"t":6000,"s":"WC","v":0.12},{"t":7000,"s":"WC","v":0.1},{"t":8000,"s":"WC","v":0.15},{"t":9000,"s":"WC","v":0.16},{"t":10000,"s":"WC","v":0.17},{"t":11000,"s":"WC","v":0.19},{"t":12000,"s":"WC","v":0.18},{"t":13000,"s":"WC","v":0.19},{"t":14000,"s":"WC","v":0.22},{"t":15000,"s":"WC","v":0.23},{"t":16000,"s":"WC","v":0.27},{"t":17000,"s":"WC","v":0.29},{"t":18000,"s":"WC","v":0.33},{"t":19000,"s":"WC","v":0.38},{"t":20000,"s":"WC","v":0.47},{"t":21000,"s":"WC","v":0.48},{"t":22000,"s":"WC","v":0.53},{"t":23000,"s":"WC","v":0.8},{"t":24000,"s":"WC","v":1.3},{"t":25000,"s":"WC","v":2.2},{"t":26000,"s":"WC","v":3.5},{"t":27000,"s":"WC","v":4.6},{"t":28000,"s":"WC","v":7.5},{"t":29000,"s":"WC","v":22},{"t":30000,"s":"WC","v":35},{"t":31000,"s":"WC","v":38},{"t":32000,"s":"WC","v":40},{"t":33000,"s":"WC","v":42},{"t":34000,"s":"WC","v":49},{"t":35000,"s":"WC","v":46},{"t":36000,"s":"WC","v":47},{"t":37000,"s":"WC","v":44},{"t":38000,"s":"WC","v":42},{"t":39000,"s":"WC","v":44},{"t":40000,"s":"WC","v":46},{"t":41000,"s":"WC","v":49},{"t":42000,"s":"WC","v":47},{"t":43000,"s":"WC","v":47},{"t":44000,"s":"WC","v":46},{"t":45000,"s":"WC","v":45},{"t":46000,"s":"WC","v":46},{"t":47000,"s":"WC","v":47},{"t":48000,"s":"WC","v":52},{"t":49000,"s":"WC","v":50},{"t":50000,"s":"WC","v":49},{"t":51000,"s":"WC","v":50},{"t":52000,"s":"WC","v":49},{"t":53000,"s":"WC","v":52},{"t":54000,"s":"WC","v":54},{"t":55000,"s":"WC","v":53},{"t":56000,"s":"WC","v":47},{"t":57000,"s":"WC","v":52},{"t":58000,"s":"WC","v":53},{"t":59000,"s":"WC","v":53},{"t":60000,"s":"WC","v":55},{"t":61000,"s":"WC","v":53},{"t":62000,"s":"WC","v":57},{"t":63000,"s":"WC","v":59},{"t":64000,"s":"WC","v":63},{"t":65000,"s":"WC","v":59},{"t":66000,"s":"WC","v":57},{"t":67000,"s":"WC","v":59},{"t":68000,"s":"WC","v":61},{"t":69000,"s":"WC","v":59},{"t":70000,"s":"WC","v":60},{"t":71000,"s":"WC","v":57},{"t":72000,"s":"WC","v":60},{"t":73000,"s":"WC","v":59},{"t":74000,"s":"WC","v":57},{"t":75000,"s":"WC","v":54},{"t":76000,"s":"WC","v":57},{"t":77000,"s":"WC","v":58},{"t":78000,"s":"WC","v":61},{"t":79000,"s":"WC","v":56},{"t":80000,"s":"WC","v":58},{"t":81000,"s":"WC","v":59},{"t":82000,"s":"WC","v":56},{"t":83000,"s":"WC","v":59},{"t":84000,"s":"WC","v":61},{"t":85000,"s":"WC","v":57},{"t":86000,"s":"WC","v":56},{"t":87000,"s":"WC","v":60},{"t":88000,"s":"WC","v":56},{"t":89000,"s":"WC","v":54},{"t":90000,"s":"WC","v":55},{"t":91000,"s":"WC","v":56},{"t":92000,"s":"WC","v":58},{"t":93000,"s":"WC","v":56},{"t":94000,"s":"WC","v":59},{"t":95000,"s":"WC","v":57},{"t":96000,"s":"WC","v":59},
{"t":2000,"s":"WP","v":0.1},{"t":3000,"s":"WP","v":0.12},{"t":4000,"s":"WP","v":0.09},{"t":5000,"s":"WP","v":0.1},{"t":6000,"s":"WP","v":0.15},{"t":7000,"s":"WP","v":0.25},{"t":8000,"s":"WP","v":0.28},{"t":9000,"s":"WP","v":0.3},{"t":10000,"s":"WP","v":0.31},{"t":11000,"s":"WP","v":0.4},{"t":12000,"s":"WP","v":0.48},{"t":13000,"s":"WP","v":0.58},{"t":14000,"s":"WP","v":0.66},{"t":15000,"s":"WP","v":0.72},{"t":16000,"s":"WP","v":0.8},{"t":17000,"s":"WP","v":0.94},{"t":18000,"s":"WP","v":1.0},{"t":19000,"s":"WP","v":1.23},{"t":20000,"s":"WP","v":1.15},{"t":21000,"s":"WP","v":1.3},{"t":22000,"s":"WP","v":1.44},{"t":23000,"s":"WP","v":1.67},{"t":24000,"s":"WP","v":1.87},{"t":25000,"s":"WP","v":2.2},{"t":26000,"s":"WP","v":3.0},{"t":27000,"s":"WP","v":3.8},{"t":28000,"s":"WP","v":4.5},{"t":29000,"s":"WP","v":5.1},{"t":30000,"s":"WP","v":6.6},{"t":31000,"s":"WP","v":8.2},{"t":32000,"s":"WP","v":10.6},{"t":33000,"s":"WP","v":10.6},{"t":34000,"s":"WP","v":11.2},{"t":35000,"s":"WP","v":11.8},{"t":36000,"s":"WP","v":10.6},{"t":37000,"s":"WP","v":11.2},{"t":38000,"s":"WP","v":10.6},{"t":39000,"s":"WP","v":11.2},{"t":40000,"s":"WP","v":11},{"t":41000,"s":"WP","v":11.4},{"t":42000,"s":"WP","v":11},{"t":43000,"s":"WP","v":11.2},{"t":44000,"s":"WP","v":11},{"t":45000,"s":"WP","v":10},{"t":46000,"s":"WP","v":10.6},{"t":47000,"s":"WP","v":11.4},{"t":48000,"s":"WP","v":12.1},{"t":49000,"s":"WP","v":12.4},{"t":50000,"s":"WP","v":11},{"t":51000,"s":"WP","v":11},{"t":52000,"s":"WP","v":9.1},{"t":53000,"s":"WP","v":10.6},{"t":54000,"s":"WP","v":11.8},{"t":55000,"s":"WP","v":13},{"t":56000,"s":"WP","v":12.4},{"t":57000,"s":"WP","v":12.4},{"t":58000,"s":"WP","v":13},{"t":59000,"s":"WP","v":13},{"t":60000,"s":"WP","v":13},{"t":61000,"s":"WP","v":13.8},{"t":62000,"s":"WP","v":13.8},{"t":63000,"s":"WP","v":14.5},{"t":64000,"s":"WP","v":12.4},{"t":65000,"s":"WP","v":14.5},{"t":66000,"s":"WP","v":13},{"t":67000,"s":"WP","v":13.8},{"t":68000,"s":"WP","v":14.1},{"t":69000,"s":"WP","v":13},{"t":70000,"s":"WP","v":12.4},{"t":71000,"s":"WP","v":11.4},{"t":72000,"s":"WP","v":13},{"t":73000,"s":"WP","v":12.4},{"t":74000,"s":"WP","v":14.1},{"t":75000,"s":"WP","v":13},{"t":76000,"s":"WP","v":13.4},{"t":77000,"s":"WP","v":15},{"t":78000,"s":"WP","v":14.5},{"t":79000,"s":"WP","v":13.8},{"t":80000,"s":"WP","v":13},{"t":81000,"s":"WP","v":14.1},{"t":82000,"s":"WP","v":13.4},{"t":83000,"s":"WP","v":13},{"t":84000,"s":"WP","v":13.8},{"t":85000,"s":"WP","v":12.7},{"t":86000,"s":"WP","v":13.2},{"t":87000,"s":"WP","v":13},{"t":88000,"s":"WP","v":15.3},{"t":89000,"s":"WP","v":13.4},{"t":90000,"s":"WP","v":13},{"t":91000,"s":"WP","v":13},{"t":92000,"s":"WP","v":13.8},{"t":93000,"s":"WP","v":14.5},{"t":94000,"s":"WP","v":13},{"t":95000,"s":"WP","v":11.8},{"t":96000,"s":"WP","v":10.6},
{"t":8200,"s":"WT","v":0.09},{"t":9000,"s":"WT","v":0.16},{"t":10000,"s":"WT","v":0.22},{"t":11000,"s":"WT","v":0.3},{"t":12000,"s":"WT","v":0.45},{"t":13000,"s":"WT","v":0.62},{"t":14000,"s":"WT","v":1.25},{"t":15000,"s":"WT","v":1.5},{"t":16000,"s":"WT","v":1.44},{"t":17000,"s":"WT","v":1.9},{"t":18000,"s":"WT","v":1.87},{"t":19000,"s":"WT","v":1.48},{"t":20000,"s":"WT","v":1.67},{"t":21000,"s":"WT","v":1.87},{"t":22000,"s":"WT","v":1.87},{"t":23000,"s":"WT","v":1.83},{"t":24000,"s":"WT","v":1.77},{"t":25000,"s":"WT","v":2.2},{"t":26000,"s":"WT","v":2.1},{"t":27000,"s":"WT","v":1.77},{"t":28000,"s":"WT","v":1.6},{"t":29000,"s":"WT","v":1.4},{"t":30000,"s":"WT","v":1.15},{"t":31000,"s":"WT","v":0.98},{"t":32000,"s":"WT","v":0.85},{"t":33000,"s":"WT","v":0.8},{"t":34000,"s":"WT","v":0.72},{"t":35000,"s":"WT","v":0.89},{"t":36000,"s":"WT","v":0.8},{"t":37000,"s":"WT","v":0.69},{"t":38000,"s":"WT","v":0.58},{"t":39000,"s":"WT","v":0.65},{"t":40000,"s":"WT","v":0.72},{"t":41000,"s":"WT","v":0.8},{"t":42000,"s":"WT","v":0.85},{"t":43000,"s":"WT","v":0.69},{"t":44000,"s":"WT","v":0.66},{"t":45000,"s":"WT","v":0.69},{"t":46000,"s":"WT","v":0.72},{"t":47000,"s":"WT","v":0.76},{"t":48000,"s":"WT","v":0.8},{"t":49000,"s":"WT","v":0.72},{"t":50000,"s":"WT","v":0.76},{"t":51000,"s":"WT","v":0.8},{"t":52000,"s":"WT","v":0.72},{"t":53000,"s":"WT","v":0.8},{"t":54000,"s":"WT","v":0.85},{"t":55000,"s":"WT","v":1.05},{"t":56000,"s":"WT","v":1.05},{"t":57000,"s":"WT","v":0.89},{"t":58000,"s":"WT","v":0.91},{"t":59000,"s":"WT","v":0.89},{"t":60000,"s":"WT","v":0.87},{"t":61000,"s":"WT","v":0.89},{"t":62000,"s":"WT","v":0.87},{"t":63000,"s":"WT","v":0.91},{"t":64000,"s":"WT","v":0.94},{"t":65000,"s":"WT","v":1.17},{"t":66000,"s":"WT","v":1.13},{"t":67000,"s":"WT","v":1.1},{"t":68000,"s":"WT","v":0.94},{"t":69000,"s":"WT","v":1.05},{"t":70000,"s":"WT","v":0.94},{"t":71000,"s":"WT","v":1.05},{"t":72000,"s":"WT","v":0.91},{"t":73000,"s":"WT","v":1.08},{"t":74000,"s":"WT","v":0.89},{"t":75000,"s":"WT","v":1.1},{"t":76000,"s":"WT","v":1.0},{"t":77000,"s":"WT","v":0.89},{"t":78000,"s":"WT","v":1.13},{"t":79000,"s":"WT","v":1.01},{"t":80000,"s":"WT","v":0.94},{"t":81000,"s":"WT","v":1.05},{"t":82000,"s":"WT","v":1.08},{"t":83000,"s":"WT","v":1.17},{"t":84000,"s":"WT","v":1.1},{"t":85000,"s":"WT","v":0.89},{"t":86000,"s":"WT","v":1.01},{"t":87000,"s":"WT","v":1.05},{"t":88000,"s":"WT","v":0.97},{"t":89000,"s":"WT","v":0.97},{"t":90000,"s":"WT","v":1.1},{"t":91000,"s":"WT","v":1.05},{"t":92000,"s":"WT","v":1.17},{"t":93000,"s":"WT","v":1.01},{"t":94000,"s":"WT","v":0.89},{"t":95000,"s":"WT","v":0.76},{"t":96000,"s":"WT","v":0.71},
{"t":8200,"s":"WO","v":0.09},{"t":9000,"s":"WO","v":0.18},{"t":10000,"s":"WO","v":0.19},{"t":11000,"s":"WO","v":0.24},{"t":12000,"s":"WO","v":0.23},{"t":13000,"s":"WO","v":0.24},{"t":14000,"s":"WO","v":0.2},{"t":15000,"s":"WO","v":0.23},{"t":16000,"s":"WO","v":0.22},{"t":17000,"s":"WO","v":0.23},{"t":18000,"s":"WO","v":0.23},{"t":19000,"s":"WO","v":0.2},{"t":20000,"s":"WO","v":0.23},{"t":21000,"s":"WO","v":0.22},{"t":22000,"s":"WO","v":0.18},{"t":23000,"s":"WO","v":0.19},{"t":24000,"s":"WO","v":0.2},{"t":25000,"s":"WO","v":0.21},{"t":26000,"s":"WO","v":0.26},{"t":27000,"s":"WO","v":0.24},{"t":28000,"s":"WO","v":0.25},{"t":29000,"s":"WO","v":0.23},{"t":30000,"s":"WO","v":0.24},{"t":31000,"s":"WO","v":0.2},{"t":32000,"s":"WO","v":0.19},{"t":33000,"s":"WO","v":0.14},{"t":34000,"s":"WO","v":0.11},{"t":35000,"s":"WO","v":0.1},{"t":36000,"s":"WO","v":0.09},
{"t":30800,"s":"WB","v":0.09},{"t":32000,"s":"WB","v":0.19},{"t":33000,"s":"WB","v":0.22},{"t":34000,"s":"WB","v":0.23},{"t":35000,"s":"WB","v":0.19},{"t":36000,"s":"WB","v":0.18},{"t":37000,"s":"WB","v":0.14},{"t":38000,"s":"WB","v":0.13},{"t":39000,"s":"WB","v":0.14},{"t":40000,"s":"WB","v":0.15},{"t":41000,"s":"WB","v":0.15},{"t":42000,"s":"WB","v":0.15},{"t":43000,"s":"WB","v":0.15},{"t":44000,"s":"WB","v":0.12},{"t":45000,"s":"WB","v":0.13},{"t":46000,"s":"WB","v":0.14},{"t":47000,"s":"WB","v":0.15},{"t":48000,"s":"WB","v":0.2},{"t":49000,"s":"WB","v":0.22},{"t":50000,"s":"WB","v":0.19},{"t":51000,"s":"WB","v":0.16},{"t":52000,"s":"WB","v":0.16},{"t":53000,"s":"WB","v":0.1},{"t":54000,"s":"WB","v":0.11},{"t":55000,"s":"WB","v":0.11},{"t":56000,"s":"WB","v":0.1},{"t":57000,"s":"WB","v":0.08},{"t":65000,"s":"WB","v":0.08},{"t":72000,"s":"WB","v":0.08},{"t":73000,"s":"WB","v":0.12},{"t":74000,"s":"WB","v":0.11},{"t":75000,"s":"WB","v":0.12},{"t":76000,"s":"WB","v":0.1},{"t":77000,"s":"WB","v":0.08},{"t":85000,"s":"WB","v":0.08},{"t":89000,"s":"WB","v":0.09},{"t":90000,"s":"WB","v":0.12},{"t":91000,"s":"WB","v":0.14},{"t":92000,"s":"WB","v":0.09},{"t":94000,"s":"WB","v":0.08},{"t":95000,"s":"WB","v":0.1},{"t":96000,"s":"WB","v":0.12}
],
"eb": [
{"s":"IWC","t":0,"m":0.9,"lo":0.9,"hi":0.9},{"s":"IWC","t":1000,"m":1.72,"lo":1.52,"hi":1.94},{"s":"IWC","t":2000,"m":1.78,"lo":1.55,"hi":1.95},{"s":"IWC","t":3000,"m":1.65,"lo":1.5,"hi":1.93},{"s":"IWC","t":4000,"m":1.75,"lo":1.5,"hi":1.93},{"s":"IWC","t":5000,"m":1.62,"lo":1.42,"hi":1.84},{"s":"IWC","t":6000,"m":1.56,"lo":1.36,"hi":1.8},{"s":"IWC","t":7000,"m":1.5,"lo":1.36,"hi":1.72},{"s":"IWC","t":8000,"m":1.46,"lo":1.28,"hi":1.68},{"s":"IWC","t":9000,"m":1.42,"lo":1.24,"hi":1.66},{"s":"IWC","t":10000,"m":1.46,"lo":1.25,"hi":1.62},{"s":"IWC","t":11000,"m":1.4,"lo":1.23,"hi":1.6},{"s":"IWC","t":12000,"m":1.46,"lo":1.24,"hi":1.63},{"s":"IWC","t":13000,"m":1.42,"lo":1.22,"hi":1.62},{"s":"IWC","t":14000,"m":1.48,"lo":1.27,"hi":1.63},{"s":"IWC","t":15000,"m":1.4,"lo":1.23,"hi":1.62},{"s":"IWC","t":16000,"m":1.45,"lo":1.24,"hi":1.62},{"s":"IWC","t":17000,"m":1.42,"lo":1.22,"hi":1.62},{"s":"IWC","t":18000,"m":1.47,"lo":1.25,"hi":1.61},{"s":"IWC","t":19000,"m":1.4,"lo":1.23,"hi":1.6},{"s":"IWC","t":20000,"m":1.44,"lo":1.22,"hi":1.6},{"s":"IWC","t":21000,"m":1.38,"lo":1.2,"hi":1.55},{"s":"IWC","t":22000,"m":1.42,"lo":1.2,"hi":1.58},{"s":"IWC","t":23000,"m":1.4,"lo":1.2,"hi":1.62},{"s":"IWC","t":24000,"m":1.48,"lo":1.25,"hi":1.68},{"s":"IWC","t":25000,"m":1.42,"lo":1.22,"hi":1.6},{"s":"IWC","t":26000,"m":1.5,"lo":1.2,"hi":1.72},{"s":"IWC","t":27000,"m":1.45,"lo":1.2,"hi":1.7},{"s":"IWC","t":28000,"m":1.55,"lo":1.3,"hi":1.75},{"s":"IWC","t":29000,"m":1.7,"lo":1.45,"hi":1.95},{"s":"IWC","t":30000,"m":2.0,"lo":1.75,"hi":2.3},{"s":"IWC","t":31000,"m":2.1,"lo":1.78,"hi":2.38},{"s":"IWC","t":32000,"m":2.05,"lo":1.8,"hi":2.42},{"s":"IWC","t":33000,"m":2.15,"lo":1.82,"hi":2.48},{"s":"IWC","t":34000,"m":2.1,"lo":1.85,"hi":2.45},{"s":"IWC","t":35000,"m":2.18,"lo":1.85,"hi":2.5},{"s":"IWC","t":36000,"m":2.12,"lo":1.86,"hi":2.42},{"s":"IWC","t":37000,"m":2.2,"lo":1.84,"hi":2.48},{"s":"IWC","t":38000,"m":2.15,"lo":1.82,"hi":2.52},{"s":"IWC","t":39000,"m":2.22,"lo":1.87,"hi":2.46},{"s":"IWC","t":40000,"m":2.12,"lo":1.83,"hi":2.5},{"s":"IWC","t":41000,"m":2.2,"lo":1.85,"hi":2.52},{"s":"IWC","t":42000,"m":2.15,"lo":1.83,"hi":2.47},{"s":"IWC","t":43000,"m":2.22,"lo":1.88,"hi":2.58},{"s":"IWC","t":44000,"m":2.1,"lo":1.82,"hi":2.45},{"s":"IWC","t":45000,"m":2.2,"lo":1.85,"hi":2.53},{"s":"IWC","t":46000,"m":2.15,"lo":1.9,"hi":2.5},{"s":"IWC","t":47000,"m":2.25,"lo":1.88,"hi":2.6},{"s":"IWC","t":48000,"m":2.15,"lo":1.87,"hi":2.52},{"s":"IWC","t":49000,"m":2.22,"lo":1.9,"hi":2.58},{"s":"IWC","t":50000,"m":2.12,"lo":1.85,"hi":2.5},{"s":"IWC","t":51000,"m":2.25,"lo":1.9,"hi":2.57},{"s":"IWC","t":52000,"m":2.2,"lo":1.88,"hi":2.52},{"s":"IWC","t":53000,"m":2.28,"lo":1.92,"hi":2.6},{"s":"IWC","t":54000,"m":2.18,"lo":1.9,"hi":2.55},{"s":"IWC","t":55000,"m":2.3,"lo":1.95,"hi":2.62},{"s":"IWC","t":56000,"m":2.22,"lo":1.9,"hi":2.6},{"s":"IWC","t":57000,"m":2.3,"lo":1.95,"hi":2.64},{"s":"IWC","t":58000,"m":2.25,"lo":1.92,"hi":2.62},{"s":"IWC","t":59000,"m":2.28,"lo":1.96,"hi":2.64},{"s":"IWC","t":60000,"m":2.3,"lo":1.95,"hi":2.62},{"s":"IWC","t":61000,"m":2.25,"lo":1.93,"hi":2.6},{"s":"IWC","t":62000,"m":2.28,"lo":1.92,"hi":2.58},{"s":"IWC","t":63000,"m":2.2,"lo":1.9,"hi":2.55},{"s":"IWC","t":64000,"m":2.25,"lo":1.88,"hi":2.56},{"s":"IWC","t":65000,"m":2.18,"lo":1.85,"hi":2.52},{"s":"IWC","t":66000,"m":2.25,"lo":1.9,"hi":2.55},{"s":"IWC","t":67000,"m":2.15,"lo":1.87,"hi":2.52},{"s":"IWC","t":68000,"m":2.22,"lo":1.9,"hi":2.56},{"s":"IWC","t":69000,"m":2.28,"lo":1.88,"hi":2.58},{"s":"IWC","t":70000,"m":2.2,"lo":1.92,"hi":2.55},{"s":"IWC","t":71000,"m":2.25,"lo":1.85,"hi":2.52},{"s":"IWC","t":72000,"m":2.12,"lo":1.8,"hi":2.48},{"s":"IWC","t":73000,"m":2.2,"lo":1.82,"hi":2.45},{"s":"IWC","t":74000,"m":2.15,"lo":1.85,"hi":2.5},{"s":"IWC","t":75000,"m":2.22,"lo":1.82,"hi":2.48},{"s":"IWC","t":76000,"m":2.12,"lo":1.85,"hi":2.45},{"s":"IWC","t":77000,"m":2.2,"lo":1.82,"hi":2.5},{"s":"IWC","t":78000,"m":2.15,"lo":1.85,"hi":2.48},{"s":"IWC","t":79000,"m":2.22,"lo":1.82,"hi":2.45},{"s":"IWC","t":80000,"m":2.12,"lo":1.8,"hi":2.5},{"s":"IWC","t":81000,"m":2.2,"lo":1.85,"hi":2.48},{"s":"IWC","t":82000,"m":2.15,"lo":1.82,"hi":2.5},{"s":"IWC","t":83000,"m":2.22,"lo":1.8,"hi":2.48},{"s":"IWC","t":84000,"m":2.1,"lo":1.82,"hi":2.45},{"s":"IWC","t":85000,"m":2.2,"lo":1.85,"hi":2.5},{"s":"IWC","t":86000,"m":2.15,"lo":1.8,"hi":2.47},{"s":"IWC","t":87000,"m":2.22,"lo":1.83,"hi":2.5},{"s":"IWC","t":88000,"m":2.1,"lo":1.8,"hi":2.48},{"s":"IWC","t":89000,"m":2.2,"lo":1.82,"hi":2.45},{"s":"IWC","t":90000,"m":2.12,"lo":1.85,"hi":2.48},{"s":"IWC","t":91000,"m":2.22,"lo":1.8,"hi":2.5},{"s":"IWC","t":92000,"m":2.15,"lo":1.83,"hi":2.47},{"s":"IWC","t":93000,"m":2.25,"lo":1.85,"hi":2.52},{"s":"IWC","t":94000,"m":2.12,"lo":1.82,"hi":2.55},{"s":"IWC","t":95000,"m":2.2,"lo":1.85,"hi":2.48},{"s":"IWC","t":96000,"m":2.22,"lo":1.95,"hi":2.48},
{"s":"WC","t":0,"m":0.9,"lo":0.9,"hi":0.9},{"s":"WC","t":1000,"m":1.72,"lo":1.52,"hi":1.93},{"s":"WC","t":2000,"m":1.78,"lo":1.55,"hi":1.94},{"s":"WC","t":3000,"m":1.65,"lo":1.5,"hi":1.92},{"s":"WC","t":4000,"m":1.75,"lo":1.5,"hi":1.93},{"s":"WC","t":5000,"m":1.6,"lo":1.42,"hi":1.82},{"s":"WC","t":6000,"m":1.55,"lo":1.35,"hi":1.79},{"s":"WC","t":7000,"m":1.5,"lo":1.36,"hi":1.7},{"s":"WC","t":8000,"m":1.45,"lo":1.28,"hi":1.68},{"s":"WC","t":9000,"m":1.4,"lo":1.23,"hi":1.65},{"s":"WC","t":10000,"m":1.45,"lo":1.25,"hi":1.6},{"s":"WC","t":11000,"m":1.38,"lo":1.22,"hi":1.56},{"s":"WC","t":12000,"m":1.45,"lo":1.24,"hi":1.62},{"s":"WC","t":13000,"m":1.4,"lo":1.21,"hi":1.57},{"s":"WC","t":14000,"m":1.47,"lo":1.27,"hi":1.62},{"s":"WC","t":15000,"m":1.38,"lo":1.23,"hi":1.6},{"s":"WC","t":16000,"m":1.44,"lo":1.24,"hi":1.58},{"s":"WC","t":17000,"m":1.4,"lo":1.22,"hi":1.59},{"s":"WC","t":18000,"m":1.46,"lo":1.25,"hi":1.6},{"s":"WC","t":19000,"m":1.37,"lo":1.23,"hi":1.57},{"s":"WC","t":20000,"m":1.42,"lo":1.22,"hi":1.55},{"s":"WC","t":21000,"m":1.35,"lo":1.19,"hi":1.5},{"s":"WC","t":22000,"m":1.4,"lo":1.2,"hi":1.54},{"s":"WC","t":23000,"m":1.33,"lo":1.18,"hi":1.52},{"s":"WC","t":24000,"m":1.45,"lo":1.25,"hi":1.62},{"s":"WC","t":25000,"m":1.35,"lo":1.2,"hi":1.5},{"s":"WC","t":26000,"m":1.42,"lo":1.18,"hi":1.57},{"s":"WC","t":27000,"m":1.32,"lo":1.17,"hi":1.46},{"s":"WC","t":28000,"m":1.35,"lo":1.2,"hi":1.48},{"s":"WC","t":29000,"m":1.3,"lo":1.08,"hi":1.44},{"s":"WC","t":30000,"m":1.25,"lo":1.12,"hi":1.38},{"s":"WC","t":31000,"m":1.3,"lo":1.12,"hi":1.42},{"s":"WC","t":32000,"m":1.22,"lo":1.1,"hi":1.36},{"s":"WC","t":33000,"m":1.32,"lo":1.15,"hi":1.44},{"s":"WC","t":34000,"m":1.28,"lo":1.14,"hi":1.4},{"s":"WC","t":35000,"m":1.33,"lo":1.2,"hi":1.43},{"s":"WC","t":36000,"m":1.25,"lo":1.1,"hi":1.42},{"s":"WC","t":37000,"m":1.32,"lo":1.09,"hi":1.42},{"s":"WC","t":38000,"m":1.28,"lo":1.12,"hi":1.4},{"s":"WC","t":39000,"m":1.35,"lo":1.18,"hi":1.45},{"s":"WC","t":40000,"m":1.27,"lo":1.12,"hi":1.42},{"s":"WC","t":41000,"m":1.33,"lo":1.18,"hi":1.44},{"s":"WC","t":42000,"m":1.3,"lo":1.12,"hi":1.45},{"s":"WC","t":43000,"m":1.38,"lo":1.22,"hi":1.48},{"s":"WC","t":44000,"m":1.27,"lo":1.12,"hi":1.4},{"s":"WC","t":45000,"m":1.33,"lo":1.15,"hi":1.46},{"s":"WC","t":46000,"m":1.28,"lo":1.12,"hi":1.42},{"s":"WC","t":47000,"m":1.36,"lo":1.2,"hi":1.48},{"s":"WC","t":48000,"m":1.3,"lo":1.13,"hi":1.44},{"s":"WC","t":49000,"m":1.35,"lo":1.16,"hi":1.46},{"s":"WC","t":50000,"m":1.28,"lo":1.12,"hi":1.42},{"s":"WC","t":51000,"m":1.38,"lo":1.2,"hi":1.48},{"s":"WC","t":52000,"m":1.32,"lo":1.14,"hi":1.45},{"s":"WC","t":53000,"m":1.4,"lo":1.22,"hi":1.5},{"s":"WC","t":54000,"m":1.3,"lo":1.12,"hi":1.44},{"s":"WC","t":55000,"m":1.38,"lo":1.18,"hi":1.5},{"s":"WC","t":56000,"m":1.25,"lo":1.12,"hi":1.46},{"s":"WC","t":57000,"m":1.4,"lo":1.08,"hi":1.5},{"s":"WC","t":58000,"m":1.3,"lo":1.15,"hi":1.48},{"s":"WC","t":59000,"m":1.38,"lo":1.2,"hi":1.5},{"s":"WC","t":60000,"m":1.32,"lo":1.15,"hi":1.52},{"s":"WC","t":61000,"m":1.4,"lo":1.2,"hi":1.48},{"s":"WC","t":62000,"m":1.25,"lo":1.02,"hi":1.46},{"s":"WC","t":63000,"m":1.36,"lo":1.18,"hi":1.52},{"s":"WC","t":64000,"m":1.33,"lo":1.15,"hi":1.54},{"s":"WC","t":65000,"m":1.38,"lo":1.22,"hi":1.5},{"s":"WC","t":66000,"m":1.3,"lo":1.1,"hi":1.45},{"s":"WC","t":67000,"m":1.38,"lo":1.2,"hi":1.5},{"s":"WC","t":68000,"m":1.28,"lo":1.12,"hi":1.48},{"s":"WC","t":69000,"m":1.35,"lo":1.1,"hi":1.45},{"s":"WC","t":70000,"m":1.15,"lo":0.93,"hi":1.42},{"s":"WC","t":71000,"m":1.38,"lo":1.2,"hi":1.5},{"s":"WC","t":72000,"m":1.34,"lo":1.15,"hi":1.48},{"s":"WC","t":73000,"m":1.4,"lo":1.22,"hi":1.5},{"s":"WC","t":74000,"m":1.32,"lo":1.15,"hi":1.45},{"s":"WC","t":75000,"m":1.38,"lo":1.22,"hi":1.5},{"s":"WC","t":76000,"m":1.35,"lo":1.18,"hi":1.48},{"s":"WC","t":77000,"m":1.42,"lo":1.25,"hi":1.52},{"s":"WC","t":78000,"m":1.36,"lo":1.2,"hi":1.5},{"s":"WC","t":79000,"m":1.42,"lo":1.25,"hi":1.5},{"s":"WC","t":80000,"m":1.35,"lo":1.15,"hi":1.48},{"s":"WC","t":81000,"m":1.4,"lo":1.22,"hi":1.5},{"s":"WC","t":82000,"m":1.35,"lo":1.15,"hi":1.48},{"s":"WC","t":83000,"m":1.38,"lo":1.09,"hi":1.5},{"s":"WC","t":84000,"m":1.3,"lo":1.12,"hi":1.46},{"s":"WC","t":85000,"m":1.4,"lo":1.22,"hi":1.5},{"s":"WC","t":86000,"m":1.35,"lo":1.15,"hi":1.47},{"s":"WC","t":87000,"m":1.42,"lo":1.25,"hi":1.52},{"s":"WC","t":88000,"m":1.35,"lo":1.14,"hi":1.5},{"s":"WC","t":89000,"m":1.38,"lo":1.2,"hi":1.48},{"s":"WC","t":90000,"m":1.33,"lo":1.15,"hi":1.48},{"s":"WC","t":91000,"m":1.4,"lo":1.2,"hi":1.5},{"s":"WC","t":92000,"m":1.35,"lo":1.18,"hi":1.46},{"s":"WC","t":93000,"m":1.38,"lo":1.12,"hi":1.48},{"s":"WC","t":94000,"m":1.3,"lo":1.15,"hi":1.45},{"s":"WC","t":95000,"m":1.35,"lo":1.15,"hi":1.45},{"s":"WC","t":96000,"m":1.26,"lo":1.08,"hi":1.42}
],
"labs": [
{"p":"A","lab":"WO","t":98000,"v":2.5},{"p":"A","lab":"WC","t":98000,"v":2.15},{"p":"A","lab":"WB","t":98000,"v":1.79},{"p":"A","lab":"WP","t":98000,"v":0.55},{"p":"A","lab":"WT","t":98000,"v":0.19},
{"p":"B","lab":"WO","t":98100,"v":2.49},{"p":"B","lab":"WB","t":98100,"v":1.81},{"p":"B","lab":"WC","t":98100,"v":1.28},{"p":"B","lab":"WP","t":98100,"v":0.43},{"p":"B","lab":"WT","t":98100,"v":0.16},
{"p":"C","lab":"WC","t":98100,"v":57},{"p":"C","lab":"WP","t":98100,"v":11.8},{"p":"C","lab":"WT","t":98100,"v":0.8},{"p":"C","lab":"WB","t":98100,"v":0.24},{"p":"C","lab":"WO","t":98100,"v":0.14},
{"p":"D","lab":"IWC","t":97650,"v":2.19},{"p":"D","lab":"WC","t":98800,"v":1.32}
]
},
"spacing": 24,
"vconcat": [
{"spacing": 5, "hconcat": [
{
 "width": 396, "height": 288,
 "encoding": {
  "x": {"field": "t", "type": "quantitative", "scale": {"domain": [0, 105000], "nice": false}, "axis": {"values": [0, 17500, 35000, 52500, 70000, 87500, 105000], "format": "d", "labelExpr": "datum.value % 35000 == 0 ? datum.label : ''", "labelFlush": false, "tickSize": 4, "title": "Year", "titleY": 28, "titleBaseline": "alphabetic"}},
  "y": {"field": "v", "type": "quantitative", "scale": {"domain": [0, 4], "nice": false}, "axis": {"values": [0, 0.5, 1, 1.5, 2, 2.5, 3, 3.5, 4], "format": "~g", "labelExpr": "datum.value % 1 == 0 && datum.value != 2 ? datum.label : ''", "tickSize": {"condition": {"test": "datum.value % 1 != 0", "value": 2}, "value": 4}, "title": "IWt", "titleX": -22, "titleY": 144, "titleAngle": 270, "titleAlign": "center", "titleBaseline": "middle"}}
 },
 "layer": [
  {"data": {"name": "top"}, "transform": [{"filter": "datum.p != 'W'"}], "mark": {"type": "line", "strokeWidth": 1.2, "clip": true}, "encoding": {"color": {"field": "s", "type": "nominal", "scale": {"domain": ["WO", "WC", "WB", "WP", "WT"], "range": ["#22dd22", "#ff3311", "#000000", "#2244ff", "#ff44ff"]}, "legend": null}}},
  {"data": {"name": "labs"}, "transform": [{"filter": "datum.p == 'A'"}], "mark": {"type": "text", "align": "left", "baseline": "middle", "font": "Liberation Sans", "fontSize": 13, "color": "#000"}, "encoding": {"text": {"field": "lab", "type": "nominal"}}}
 ]
},
{
 "width": 396, "height": 288,
 "encoding": {
  "x": {"field": "t", "type": "quantitative", "scale": {"domain": [0, 105000], "nice": false}, "axis": {"values": [0, 17500, 35000, 52500, 70000, 87500, 105000], "format": "d", "labelExpr": "datum.value % 35000 == 0 ? datum.label : ''", "labelFlush": false, "tickSize": 4, "title": "Year", "titleY": 28, "titleBaseline": "alphabetic"}},
  "y": {"field": "v", "type": "quantitative", "scale": {"domain": [0, 4], "nice": false}, "axis": {"values": [0, 0.5, 1, 1.5, 2, 2.5, 3, 3.5, 4], "format": "~g", "labelExpr": "datum.value % 1 == 0 && datum.value != 2 ? datum.label : ''", "tickSize": {"condition": {"test": "datum.value % 1 != 0", "value": 2}, "value": 4}, "title": "Wt", "titleX": -22, "titleY": 142, "titleAngle": 270, "titleAlign": "center", "titleBaseline": "middle"}}
 },
 "layer": [
  {"data": {"name": "top"}, "transform": [{"filter": "datum.p != 'I'"}], "mark": {"type": "line", "strokeWidth": 1.2, "clip": true}, "encoding": {"color": {"field": "s", "type": "nominal", "scale": {"domain": ["WO", "WC", "WB", "WP", "WT"], "range": ["#22dd22", "#ff3311", "#000000", "#2244ff", "#ff44ff"]}, "legend": null}}},
  {"data": {"name": "labs"}, "transform": [{"filter": "datum.p == 'B'"}], "mark": {"type": "text", "align": "left", "baseline": "middle", "font": "Liberation Sans", "fontSize": 13, "color": "#000"}, "encoding": {"text": {"field": "lab", "type": "nominal"}}}
 ]
}
]},
{"spacing": 0, "hconcat": [
{
 "width": 405, "height": 292,
 "encoding": {
  "x": {"field": "t", "type": "quantitative", "scale": {"domain": [0, 105000], "nice": false}, "axis": {"values": [0, 17500, 35000, 52500, 70000, 87500, 105000], "format": "d", "labelExpr": "datum.value % 35000 == 0 ? datum.label : ''", "labelFlush": false, "tickSize": 4, "domainWidth": 2, "title": "Year", "titleY": 23, "titleBaseline": "alphabetic"}},
  "y": {"field": "v", "type": "quantitative", "scale": {"type": "log", "domain": [0.1, 1000], "nice": false}, "axis": {"values": [0.1, 0.2, 0.3, 0.4, 0.5, 0.6, 0.7, 0.8, 0.9, 1, 2, 3, 4, 5, 6, 7, 8, 9, 10, 20, 30, 40, 50, 60, 70, 80, 90, 100, 200, 300, 400, 500, 600, 700, 800, 900, 1000], "labelExpr": "datum.value == 1000 ? '1000' : datum.value == 100 ? '100' : datum.value == 1 ? '1' : datum.value == 0.1 ? '.1' : ''", "labelAngle": 270, "labelAlign": "center", "labelBaseline": "bottom", "tickSize": {"condition": {"test": "indexof([0.1, 1, 10, 100, 1000], datum.value) < 0", "value": 2}, "value": 4}, "title": "eWt", "titleX": -20, "titleY": 146, "titleAngle": 270, "titleAlign": "center", "titleBaseline": "middle"}}
 },
 "layer": [
  {"data": {"name": "ew"}, "mark": {"type": "line", "strokeWidth": 1.2, "clip": true}, "encoding": {"color": {"field": "s", "type": "nominal", "scale": {"domain": ["WO", "WC", "WB", "WP", "WT"], "range": ["#22dd22", "#ff3311", "#000000", "#2244ff", "#ff44ff"]}, "legend": null}}},
  {"data": {"name": "labs"}, "transform": [{"filter": "datum.p == 'C'"}], "mark": {"type": "text", "align": "left", "baseline": "middle", "font": "Liberation Sans", "fontSize": 13, "color": "#000"}, "encoding": {"text": {"field": "lab", "type": "nominal"}}}
 ]
},
{
 "width": 396, "height": 288,
 "data": {"name": "eb"},
 "encoding": {
  "x": {"field": "t", "type": "quantitative", "scale": {"domain": [0, 105000], "nice": false}, "axis": {"values": [0, 17500, 35000, 52500, 70000, 87500, 105000], "format": "d", "labelExpr": "datum.value % 35000 == 0 ? datum.label : ''", "labelFlush": false, "tickSize": 4, "title": "Year", "titleY": 24, "titleBaseline": "alphabetic"}}
 },
 "layer": [
  {"transform": [{"filter": "datum.s == 'IWC'"}], "mark": {"type": "rule", "color": "#1ee81e", "strokeWidth": 1.4}, "encoding": {"y": {"field": "lo", "type": "quantitative", "scale": {"domain": [0.9, 2.7], "nice": false, "zero": false}, "axis": {"values": [0.9, 1.2, 1.5, 1.8, 2.1, 2.4, 2.7], "labelExpr": "indexof([0.9, 1.5, 2.1, 2.7], datum.value) >= 0 ? format(datum.value, '.1f') : ''", "tickSize": {"condition": {"test": "indexof([0.9, 1.5, 2.1, 2.7], datum.value) < 0", "value": 2}, "value": 4}, "title": "IWC/WC", "titleX": -28, "titleY": 142, "titleAngle": 270, "titleAlign": "center", "titleBaseline": "middle"}}, "y2": {"field": "hi"}}},
  {"transform": [{"filter": "datum.s == 'IWC' && datum.t > 0"}], "mark": {"type": "tick", "orient": "horizontal", "size": 7, "thickness": 1.4, "color": "#1ee81e"}, "encoding": {"y": {"field": "lo", "type": "quantitative", "scale": {"domain": [0.9, 2.7], "nice": false, "zero": false}, "axis": {"values": [0.9, 1.2, 1.5, 1.8, 2.1, 2.4, 2.7], "labelExpr": "indexof([0.9, 1.5, 2.1, 2.7], datum.value) >= 0 ? format(datum.value, '.1f') : ''", "tickSize": {"condition": {"test": "indexof([0.9, 1.5, 2.1, 2.7], datum.value) < 0", "value": 2}, "value": 4}, "title": "IWC/WC", "titleX": -28, "titleY": 142, "titleAngle": 270, "titleAlign": "center", "titleBaseline": "middle"}}}},
  {"transform": [{"filter": "datum.s == 'IWC' && datum.t > 0"}], "mark": {"type": "tick", "orient": "horizontal", "size": 7, "thickness": 1.4, "color": "#1ee81e"}, "encoding": {"y": {"field": "hi", "type": "quantitative", "scale": {"domain": [0.9, 2.7], "nice": false, "zero": false}, "axis": {"values": [0.9, 1.2, 1.5, 1.8, 2.1, 2.4, 2.7], "labelExpr": "indexof([0.9, 1.5, 2.1, 2.7], datum.value) >= 0 ? format(datum.value, '.1f') : ''", "tickSize": {"condition": {"test": "indexof([0.9, 1.5, 2.1, 2.7], datum.value) < 0", "value": 2}, "value": 4}, "title": "IWC/WC", "titleX": -28, "titleY": 142, "titleAngle": 270, "titleAlign": "center", "titleBaseline": "middle"}}}},
  {"transform": [{"filter": "datum.s == 'IWC'"}], "mark": {"type": "line", "color": "#1ee81e", "strokeWidth": 1}, "encoding": {"y": {"field": "m", "type": "quantitative", "scale": {"domain": [0.9, 2.7], "nice": false, "zero": false}, "axis": {"values": [0.9, 1.2, 1.5, 1.8, 2.1, 2.4, 2.7], "labelExpr": "indexof([0.9, 1.5, 2.1, 2.7], datum.value) >= 0 ? format(datum.value, '.1f') : ''", "tickSize": {"condition": {"test": "indexof([0.9, 1.5, 2.1, 2.7], datum.value) < 0", "value": 2}, "value": 4}, "title": "IWC/WC", "titleX": -28, "titleY": 142, "titleAngle": 270, "titleAlign": "center", "titleBaseline": "middle"}}}},
  {"transform": [{"filter": "datum.s == 'WC'"}], "mark": {"type": "rule", "color": "#000", "strokeWidth": 1.4}, "encoding": {"y": {"field": "lo", "type": "quantitative", "scale": {"domain": [0.9, 2.7], "nice": false, "zero": false}, "axis": {"values": [0.9, 1.2, 1.5, 1.8, 2.1, 2.4, 2.7], "labelExpr": "indexof([0.9, 1.5, 2.1, 2.7], datum.value) >= 0 ? format(datum.value, '.1f') : ''", "tickSize": {"condition": {"test": "indexof([0.9, 1.5, 2.1, 2.7], datum.value) < 0", "value": 2}, "value": 4}, "title": "IWC/WC", "titleX": -28, "titleY": 142, "titleAngle": 270, "titleAlign": "center", "titleBaseline": "middle"}}, "y2": {"field": "hi"}}},
  {"transform": [{"filter": "datum.s == 'WC' && datum.t > 0"}], "mark": {"type": "tick", "orient": "horizontal", "size": 7, "thickness": 1.4, "color": "#000"}, "encoding": {"y": {"field": "lo", "type": "quantitative", "scale": {"domain": [0.9, 2.7], "nice": false, "zero": false}, "axis": {"values": [0.9, 1.2, 1.5, 1.8, 2.1, 2.4, 2.7], "labelExpr": "indexof([0.9, 1.5, 2.1, 2.7], datum.value) >= 0 ? format(datum.value, '.1f') : ''", "tickSize": {"condition": {"test": "indexof([0.9, 1.5, 2.1, 2.7], datum.value) < 0", "value": 2}, "value": 4}, "title": "IWC/WC", "titleX": -28, "titleY": 142, "titleAngle": 270, "titleAlign": "center", "titleBaseline": "middle"}}}},
  {"transform": [{"filter": "datum.s == 'WC' && datum.t > 0"}], "mark": {"type": "tick", "orient": "horizontal", "size": 7, "thickness": 1.4, "color": "#000"}, "encoding": {"y": {"field": "hi", "type": "quantitative", "scale": {"domain": [0.9, 2.7], "nice": false, "zero": false}, "axis": {"values": [0.9, 1.2, 1.5, 1.8, 2.1, 2.4, 2.7], "labelExpr": "indexof([0.9, 1.5, 2.1, 2.7], datum.value) >= 0 ? format(datum.value, '.1f') : ''", "tickSize": {"condition": {"test": "indexof([0.9, 1.5, 2.1, 2.7], datum.value) < 0", "value": 2}, "value": 4}, "title": "IWC/WC", "titleX": -28, "titleY": 142, "titleAngle": 270, "titleAlign": "center", "titleBaseline": "middle"}}}},
  {"transform": [{"filter": "datum.s == 'WC'"}], "mark": {"type": "line", "color": "#000", "strokeWidth": 1}, "encoding": {"y": {"field": "m", "type": "quantitative", "scale": {"domain": [0.9, 2.7], "nice": false, "zero": false}, "axis": {"values": [0.9, 1.2, 1.5, 1.8, 2.1, 2.4, 2.7], "labelExpr": "indexof([0.9, 1.5, 2.1, 2.7], datum.value) >= 0 ? format(datum.value, '.1f') : ''", "tickSize": {"condition": {"test": "indexof([0.9, 1.5, 2.1, 2.7], datum.value) < 0", "value": 2}, "value": 4}, "title": "IWC/WC", "titleX": -28, "titleY": 142, "titleAngle": 270, "titleAlign": "center", "titleBaseline": "middle"}}}},
  {"data": {"name": "labs"}, "transform": [{"filter": "datum.p == 'D'"}], "mark": {"type": "text", "align": "left", "baseline": "middle", "font": "Liberation Sans", "fontSize": 13, "color": "#000"}, "encoding": {"y": {"field": "v", "type": "quantitative", "scale": {"domain": [0.9, 2.7], "nice": false, "zero": false}, "axis": {"values": [0.9, 1.2, 1.5, 1.8, 2.1, 2.4, 2.7], "labelExpr": "indexof([0.9, 1.5, 2.1, 2.7], datum.value) >= 0 ? format(datum.value, '.1f') : ''", "tickSize": {"condition": {"test": "indexof([0.9, 1.5, 2.1, 2.7], datum.value) < 0", "value": 2}, "value": 4}, "title": "IWC/WC", "titleX": -28, "titleY": 142, "titleAngle": 270, "titleAlign": "center", "titleBaseline": "middle"}}, "text": {"field": "lab", "type": "nominal"}}}
 ]
}
]}
]
}
